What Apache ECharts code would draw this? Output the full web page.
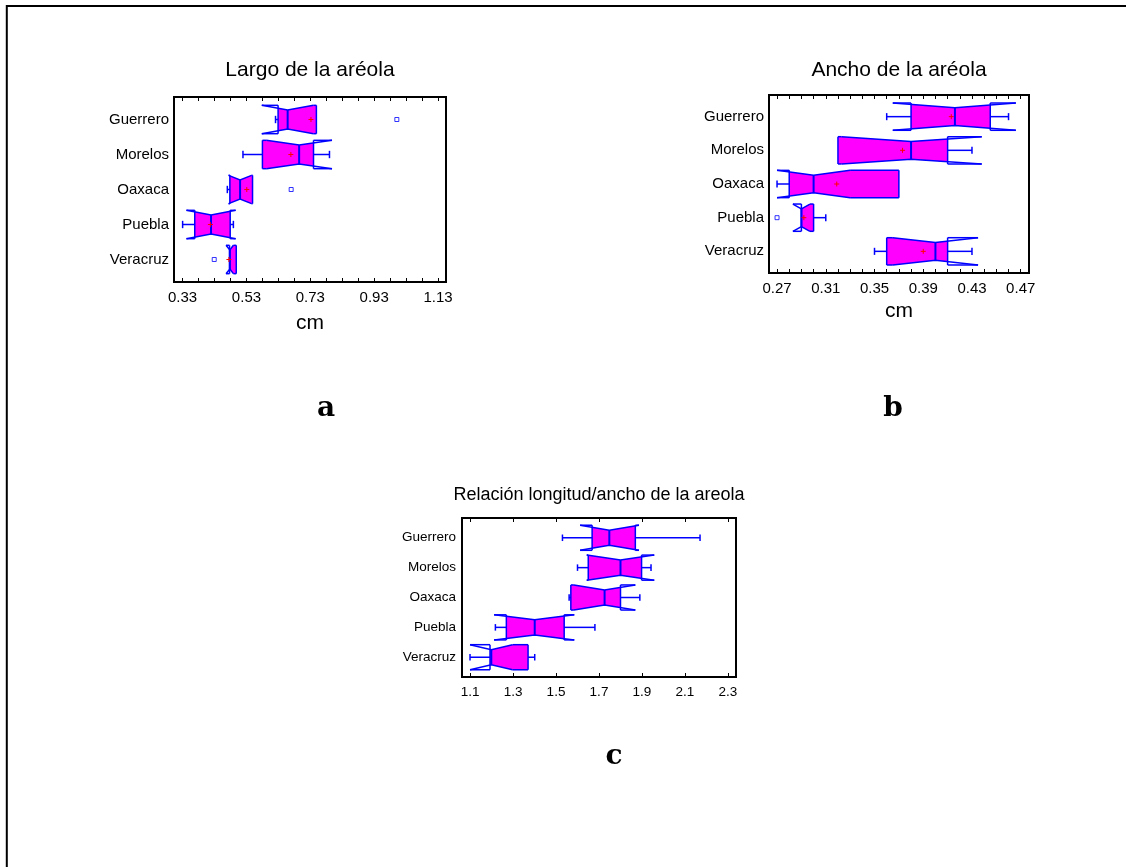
<!DOCTYPE html>
<html>
<head>
<meta charset="utf-8">
<script src="https://cdn.jsdelivr.net/npm/echarts@6/dist/echarts.min.js"></script>
<style>
  html, body { margin: 0; padding: 0; background: #fff; }
  #grafica { width: 1126px; height: 867px; }
</style>
</head>
<body>
<div id="grafica"></div>
<script>
// Gráficas de caja con muesca: largo, ancho y relación de la aréola por estado

const categorias = ['Guerrero', 'Morelos', 'Oaxaca', 'Puebla', 'Veracruz'];

// a) Largo de la aréola (cm)
const largoBigoteMin = [0.621, 0.519, 0.470, 0.330, 0.477];
const largoMuescaMin = [0.578, 0.592, 0.474, 0.342, 0.466];
const largoQ1 = [0.629, 0.580, 0.478, 0.368, 0.477];
const largoMediana = [0.659, 0.695, 0.510, 0.419, 0.478];
const largoQ3 = [0.749, 0.740, 0.549, 0.479, 0.498];
const largoMuescaMax = [0.740, 0.798, 0.546, 0.496, 0.489];
const largoBigoteMax = [0.749, 0.790, 0.549, 0.489, 0.498];
const largoMedia = [0.732, 0.669, 0.531, 0.417, 0.475];
const largoAtipicos = [[1.001, 0], [0.670, 2], [0.429, 4]];
const largoEtiquetas = [0.33, 0.53, 0.73, 0.93, 1.13];

// b) Ancho de la aréola (cm)
const anchoBigoteMin = [0.360, 0.320, 0.270, 0.290, 0.350];
const anchoMuescaMin = [0.365, 0.323, 0.270, 0.283, 0.365];
const anchoQ1 = [0.380, 0.320, 0.280, 0.290, 0.360];
const anchoMediana = [0.416, 0.380, 0.300, 0.290, 0.400];
const anchoQ3 = [0.445, 0.410, 0.370, 0.300, 0.410];
const anchoMuescaMax = [0.466, 0.438, 0.330, 0.297, 0.435];
const anchoBigoteMax = [0.460, 0.430, 0.370, 0.310, 0.430];
const anchoMedia = [0.413, 0.373, 0.319, 0.292, 0.390];
const anchoAtipicos = [[0.270, 3]];
const anchoEtiquetas = [0.27, 0.31, 0.35, 0.39, 0.43, 0.47];

// c) Relación longitud/ancho
const relBigoteMin = [1.530, 1.600, 1.561, 1.218, 1.100];
const relMuescaMin = [1.612, 1.643, 1.583, 1.212, 1.100];
const relQ1 = [1.668, 1.650, 1.569, 1.269, 1.193];
const relMediana = [1.748, 1.800, 1.726, 1.401, 1.199];
const relQ3 = [1.869, 1.898, 1.800, 1.538, 1.370];
const relMuescaMax = [1.886, 1.957, 1.869, 1.585, 1.298];
const relBigoteMax = [2.170, 1.942, 1.890, 1.681, 1.401];
const relEtiquetas = [1.1, 1.3, 1.5, 1.7, 1.9, 2.1, 2.3];

const AZUL = '#0000ff';
const MAGENTA = '#ff00ff';
const ROJO = '#ff0000';
const FUENTE = '"Liberation Sans", Arial, sans-serif';

function filas(bMin, mMin, q1, med, q3, mMax, bMax, media) {
  return categorias.map(function (c, i) {
    return [i, bMin[i], mMin[i], q1[i], med[i], q3[i], mMax[i], bMax[i], media ? media[i] : NaN];
  });
}

// marcas menores del eje (solo estilo)
function marcas(desde, hasta, paso) {
  const r = [];
  for (let v = desde; v <= hasta + paso / 10; v += paso) r.push(+v.toFixed(4));
  return r;
}

function cajaMuesca(altura, hundido) {
  return function (params, api) {
    const fila = api.value(0);
    const wLo = api.value(1), nLo = api.value(2), q1 = api.value(3), med = api.value(4);
    const q3 = api.value(5), nHi = api.value(6), wHi = api.value(7), media = api.value(8);
    const px = function (v) { return api.coord([v, fila])[0]; };
    const yc = api.coord([med, fila])[1];
    const h = Math.abs(api.size([0, 1])[1]) * altura;
    const ins = h * hundido;
    const arriba = yc - h, abajo = yc + h;
    const perfil = function (x) {
      if (x <= nLo || x >= nHi) return 0;
      return x <= med ? ins * (x - nLo) / (med - nLo) : ins * (nHi - x) / (nHi - med);
    };
    const xs = [q1, nLo, med, nHi, q3].filter(function (x) { return x >= q1 && x <= q3; })
      .sort(function (a, b) { return a - b; });
    const relleno = xs.map(function (x) { return [px(x), arriba + perfil(x)]; })
      .concat(xs.slice().reverse().map(function (x) { return [px(x), abajo - perfil(x)]; }));
    const linea = { stroke: AZUL, lineWidth: 1.5, fill: 'none' };
    const seg = function (x1, y1, x2, y2, st) {
      return { type: 'line', shape: { x1: x1, y1: y1, x2: x2, y2: y2 }, style: st || linea };
    };
    const hijos = [
      { type: 'polygon', shape: { points: relleno }, style: { fill: MAGENTA } },
      { type: 'polyline', shape: { points: [[px(nLo), arriba], [px(med), arriba + ins], [px(nHi), arriba]] }, style: linea },
      { type: 'polyline', shape: { points: [[px(nLo), abajo], [px(med), abajo - ins], [px(nHi), abajo]] }, style: linea },
      seg(px(q1), arriba, px(nLo), arriba), seg(px(q1), abajo, px(nLo), abajo),
      seg(px(nHi), arriba, px(q3), arriba), seg(px(nHi), abajo, px(q3), abajo),
      seg(px(q1), arriba, px(q1), abajo), seg(px(q3), arriba, px(q3), abajo),
      seg(px(med), arriba + ins, px(med), abajo - ins, { stroke: AZUL, lineWidth: 2 })
    ];
    const tapa = h * 0.26;
    const bigote = { stroke: AZUL, lineWidth: 1.5 };
    if (wLo < q1) {
      hijos.push(seg(px(wLo), yc, px(q1), yc, bigote));
      hijos.push(seg(px(wLo), yc - tapa, px(wLo), yc + tapa, bigote));
    }
    if (wHi > q3) {
      hijos.push(seg(px(q3), yc, px(wHi), yc, bigote));
      hijos.push(seg(px(wHi), yc - tapa, px(wHi), yc + tapa, bigote));
    }
    if (!isNaN(media)) {
      const m = px(media);
      const rojo = { stroke: ROJO, lineWidth: 1 };
      hijos.push(seg(m - 2.5, yc, m + 2.5, yc, rojo));
      hijos.push(seg(m, yc - 2.5, m, yc + 2.5, rojo));
    }
    return { type: 'group', children: hijos };
  };
}

function ejesX(grid, min, max, etiquetas, ticks, decimales, tam, margen, nombre, hueco) {
  const inferior = {
    type: 'value', gridIndex: grid, position: 'bottom', min: min, max: max,
    name: nombre, nameLocation: 'middle', nameGap: hueco,
    nameTextStyle: { fontFamily: FUENTE, fontSize: 21, color: '#000' },
    axisLine: { show: false, onZero: false },
    splitLine: { show: false },
    axisTick: { show: true, inside: true, length: 4, customValues: ticks, lineStyle: { color: '#000', width: 1 } },
    axisLabel: {
      customValues: etiquetas, margin: margen, color: '#000', fontFamily: FUENTE, fontSize: tam,
      formatter: function (v) { return (+v).toFixed(decimales); }
    }
  };
  const superior = {
    type: 'value', gridIndex: grid, position: 'top', min: min, max: max,
    axisLine: { show: false, onZero: false },
    splitLine: { show: false },
    axisLabel: { show: false },
    axisTick: { show: true, inside: true, length: 4, customValues: ticks, lineStyle: { color: '#000', width: 1 } }
  };
  return [inferior, superior];
}

function ejeY(grid, pad, tam, margen) {
  return {
    type: 'value', gridIndex: grid, inverse: true, min: -pad, max: 4 + pad,
    axisLine: { show: false, onZero: false }, axisTick: { show: false }, splitLine: { show: false },
    axisLabel: {
      customValues: [0, 1, 2, 3, 4], margin: margen, color: '#000', fontFamily: FUENTE, fontSize: tam,
      formatter: function (v) { return categorias[Math.round(v)]; }
    }
  };
}

const marco = { show: true, borderColor: '#000', borderWidth: 2, backgroundColor: '#fff', outerBoundsMode: 'none' };

const chart = echarts.init(document.getElementById('grafica'));

const texto = function (x, y, t, tam, fam, peso) {
  return {
    type: 'text', x: x, y: y, silent: true,
    style: { text: t, fontSize: tam, fontFamily: fam, fontWeight: peso || 'normal', fill: '#000', align: 'center', verticalAlign: 'middle' }
  };
};

const option = {
  animation: false,
  backgroundColor: '#fff',
  grid: [
    Object.assign({ left: 174, top: 97, width: 272, height: 185 }, marco),
    Object.assign({ left: 769, top: 95, width: 260, height: 178 }, marco),
    Object.assign({ left: 462, top: 518, width: 274, height: 159 }, marco)
  ],
  xAxis: [].concat(
    ejesX(0, 0.303, 1.155, largoEtiquetas, marcas(0.33, 1.13, 0.05), 2, 15, 8, 'cm', 31),
    ejesX(1, 0.2634, 0.4768, anchoEtiquetas, marcas(0.27, 0.47, 0.01), 2, 15, 8, 'cm', 28),
    ejesX(2, 1.0627, 2.3373, relEtiquetas, relEtiquetas, 1, 13.5, 8, '', 0)
  ),
  yAxis: [
    ejeY(0, 0.643, 15, 5),
    ejeY(1, 0.643, 15, 5),
    ejeY(2, 0.662, 13.5, 6)
  ],
  graphic: [
    { type: 'rect', silent: true, shape: { x: 6.8, y: 5.9, width: 1300, height: 1000 }, style: { fill: 'none', stroke: '#000', lineWidth: 2 } },
    texto(310, 70, 'Largo de la aréola', 21, FUENTE),
    texto(899, 70, 'Ancho de la aréola', 21, FUENTE),
    texto(599, 495, 'Relación longitud/ancho de la areola', 18, FUENTE),
    texto(326, 409, 'a', 28, '"DejaVu Serif", serif', 'bold'),
    texto(893, 409, 'b', 28, '"DejaVu Serif", serif', 'bold'),
    texto(614, 757, 'c', 28, '"DejaVu Serif", serif', 'bold')
  ],
  series: [
    {
      type: 'custom', xAxisIndex: 0, yAxisIndex: 0,
      renderItem: cajaMuesca(0.405, 0.33),
      encode: { x: [1, 2, 3, 4, 5, 6, 7], y: 0 },
      data: filas(largoBigoteMin, largoMuescaMin, largoQ1, largoMediana, largoQ3, largoMuescaMax, largoBigoteMax, largoMedia)
    },
    {
      type: 'scatter', xAxisIndex: 0, yAxisIndex: 0, symbol: 'rect', symbolSize: 4,
      itemStyle: { color: '#fff', borderColor: AZUL, borderWidth: 1 },
      data: largoAtipicos
    },
    {
      type: 'custom', xAxisIndex: 2, yAxisIndex: 1,
      renderItem: cajaMuesca(0.405, 0.35),
      encode: { x: [1, 2, 3, 4, 5, 6, 7], y: 0 },
      data: filas(anchoBigoteMin, anchoMuescaMin, anchoQ1, anchoMediana, anchoQ3, anchoMuescaMax, anchoBigoteMax, anchoMedia)
    },
    {
      type: 'scatter', xAxisIndex: 2, yAxisIndex: 1, symbol: 'rect', symbolSize: 4,
      itemStyle: { color: '#fff', borderColor: AZUL, borderWidth: 1 },
      data: anchoAtipicos
    },
    {
      type: 'custom', xAxisIndex: 4, yAxisIndex: 2,
      renderItem: cajaMuesca(0.42, 0.4),
      encode: { x: [1, 2, 3, 4, 5, 6, 7], y: 0 },
      data: filas(relBigoteMin, relMuescaMin, relQ1, relMediana, relQ3, relMuescaMax, relBigoteMax, null)
    }
  ]
};

chart.setOption(option);
</script>
</body>
</html>
